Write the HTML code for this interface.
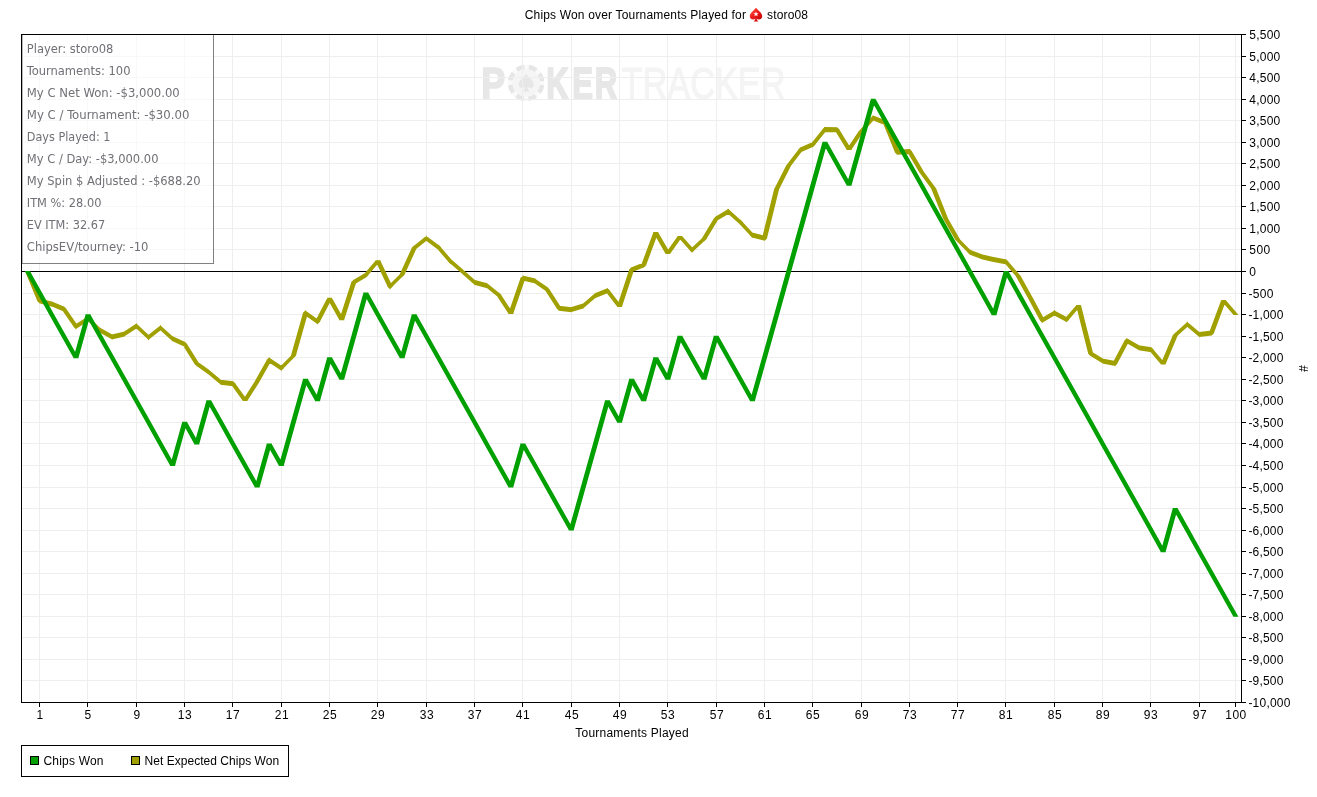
<!DOCTYPE html>
<html lang="en">
<head>
<meta charset="utf-8">
<title>Chips Won over Tournaments Played for storo08</title>
<style>
html,body{margin:0;padding:0;background:#fff;}
body{width:1317px;height:797px;overflow:hidden;}
svg{display:block;}
text{font-family:"Liberation Sans",Arial,sans-serif;font-size:12px;fill:#000;}
.info text{font-family:"DejaVu Sans Condensed","DejaVu Sans","Liberation Sans",sans-serif;font-size:12px;fill:#707076;}
.grid line{stroke:#eeeeee;stroke-width:1;shape-rendering:crispEdges;}
.ax line{stroke:#000;stroke-width:1;shape-rendering:crispEdges;}
</style>
</head>
<body>
<svg width="1317" height="797" viewBox="0 0 1317 797">
<rect x="0" y="0" width="1317" height="797" fill="#ffffff"/>
<defs><linearGradient id="sp" x1="0" y1="0" x2="1" y2="1"><stop offset="0" stop-color="#ff6a48"/><stop offset="0.45" stop-color="#ee1c1c"/><stop offset="1" stop-color="#b80000"/></linearGradient></defs>
<text x="524.7" y="19" textLength="221.2" lengthAdjust="spacing">Chips Won over Tournaments Played for</text>
<g transform="translate(756,14.4)"><path d="M0 -6.6 C 2.5 -3.5 6.2 -1.5 6.2 1.8 C 6.2 4 4.4 5 2.9 5 C 1.9 5 1.2 4.6 0.7 4 C 0.9 5.3 1.4 6.4 2.6 7 L -2.6 7 C -1.4 6.4 -0.9 5.3 -0.7 4 C -1.2 4.6 -1.9 5 -2.9 5 C -4.4 5 -6.2 4 -6.2 1.8 C -6.2 -1.5 -2.5 -3.5 0 -6.6 Z" fill="url(#sp)"/><path d="M0 -3 L0.7 -1.1 L2.5 -1.1 L1.1 0.1 L1.6 1.9 L0 0.8 L-1.6 1.9 L-1.1 0.1 L-2.5 -1.1 L-0.7 -1.1 Z" fill="#fff"/></g>
<text x="767" y="19" textLength="41" lengthAdjust="spacing">storo08</text>
<g class="wm">
<text transform="translate(0,98.6) scale(0.825,1)" x="583.27" y="0" style="font-size:43.5px;font-weight:bold;fill:#e7e7e7;stroke:#e7e7e7;stroke-width:1.6px;stroke-linejoin:round" vector-effect="non-scaling-stroke">P</text>
<text transform="translate(0,98.6) scale(0.716,1)" x="762.99 799.3 830.73" y="0" style="font-size:43.5px;font-weight:bold;fill:#e7e7e7;stroke:#e7e7e7;stroke-width:1.6px;stroke-linejoin:round" vector-effect="non-scaling-stroke">KER</text>
<text x="621.5" y="98.8" style="font-size:44.5px;fill:#f4f4f4;stroke:#f4f4f4;stroke-width:1.2px" textLength="164" lengthAdjust="spacingAndGlyphs">TRACKER</text>
<g transform="translate(526.2,82.9)"><circle r="18.3" fill="#fafafa"/><circle r="16" fill="none" stroke="#e6e6e6" stroke-width="4.6" stroke-dasharray="8 4.566" stroke-dashoffset="-2.2"/><circle r="13.7" fill="#f5f5f5"/><path d="M0 -9 C 2.5 -5.5 7.5 -2.5 7.5 1.5 C 7.5 4.6 4.6 6 1.2 4.2 C 1.5 6 2.2 7.4 3.4 8.6 L -3.4 8.6 C -2.2 7.4 -1.5 6 -1.2 4.2 C -4.6 6 -7.5 4.6 -7.5 1.5 C -7.5 -2.5 -2.5 -5.5 0 -9 Z" fill="#e6e6e6"/></g>
</g>
<g class="grid">
<line x1="39.5" y1="35" x2="39.5" y2="702"/><line x1="87.5" y1="35" x2="87.5" y2="702"/><line x1="136.5" y1="35" x2="136.5" y2="702"/><line x1="184.5" y1="35" x2="184.5" y2="702"/><line x1="232.5" y1="35" x2="232.5" y2="702"/><line x1="281.5" y1="35" x2="281.5" y2="702"/><line x1="329.5" y1="35" x2="329.5" y2="702"/><line x1="377.5" y1="35" x2="377.5" y2="702"/><line x1="426.5" y1="35" x2="426.5" y2="702"/><line x1="474.5" y1="35" x2="474.5" y2="702"/><line x1="522.5" y1="35" x2="522.5" y2="702"/><line x1="571.5" y1="35" x2="571.5" y2="702"/><line x1="619.5" y1="35" x2="619.5" y2="702"/><line x1="667.5" y1="35" x2="667.5" y2="702"/><line x1="716.5" y1="35" x2="716.5" y2="702"/><line x1="764.5" y1="35" x2="764.5" y2="702"/><line x1="812.5" y1="35" x2="812.5" y2="702"/><line x1="861.5" y1="35" x2="861.5" y2="702"/><line x1="909.5" y1="35" x2="909.5" y2="702"/><line x1="957.5" y1="35" x2="957.5" y2="702"/><line x1="1005.5" y1="35" x2="1005.5" y2="702"/><line x1="1054.5" y1="35" x2="1054.5" y2="702"/><line x1="1102.5" y1="35" x2="1102.5" y2="702"/><line x1="1150.5" y1="35" x2="1150.5" y2="702"/><line x1="1199.5" y1="35" x2="1199.5" y2="702"/><line x1="1235.5" y1="35" x2="1235.5" y2="702"/>
<line x1="22" y1="56.5" x2="1241" y2="56.5"/><line x1="22" y1="77.5" x2="1241" y2="77.5"/><line x1="22" y1="99.5" x2="1241" y2="99.5"/><line x1="22" y1="120.5" x2="1241" y2="120.5"/><line x1="22" y1="142.5" x2="1241" y2="142.5"/><line x1="22" y1="163.5" x2="1241" y2="163.5"/><line x1="22" y1="185.5" x2="1241" y2="185.5"/><line x1="22" y1="206.5" x2="1241" y2="206.5"/><line x1="22" y1="228.5" x2="1241" y2="228.5"/><line x1="22" y1="249.5" x2="1241" y2="249.5"/><line x1="22" y1="293.5" x2="1241" y2="293.5"/><line x1="22" y1="314.5" x2="1241" y2="314.5"/><line x1="22" y1="336.5" x2="1241" y2="336.5"/><line x1="22" y1="357.5" x2="1241" y2="357.5"/><line x1="22" y1="379.5" x2="1241" y2="379.5"/><line x1="22" y1="400.5" x2="1241" y2="400.5"/><line x1="22" y1="422.5" x2="1241" y2="422.5"/><line x1="22" y1="443.5" x2="1241" y2="443.5"/><line x1="22" y1="465.5" x2="1241" y2="465.5"/><line x1="22" y1="487.5" x2="1241" y2="487.5"/><line x1="22" y1="508.5" x2="1241" y2="508.5"/><line x1="22" y1="530.5" x2="1241" y2="530.5"/><line x1="22" y1="551.5" x2="1241" y2="551.5"/><line x1="22" y1="573.5" x2="1241" y2="573.5"/><line x1="22" y1="594.5" x2="1241" y2="594.5"/><line x1="22" y1="616.5" x2="1241" y2="616.5"/><line x1="22" y1="637.5" x2="1241" y2="637.5"/><line x1="22" y1="659.5" x2="1241" y2="659.5"/><line x1="22" y1="680.5" x2="1241" y2="680.5"/>
</g>
<g class="info">
<rect x="22" y="35" width="191" height="228" fill="#ffffff" fill-opacity="0.6"/><path d="M213.5 35V263.5H22" fill="none" stroke="#808080" stroke-width="1" shape-rendering="crispEdges"/><path d="M22.5 35V263" fill="none" stroke="#b8b8b8" stroke-width="1" shape-rendering="crispEdges"/>
<text x="26.8" y="53" textLength="86.6" lengthAdjust="spacingAndGlyphs">Player: storo08</text>
<text x="26.8" y="75" textLength="103.7" lengthAdjust="spacingAndGlyphs">Tournaments: 100</text>
<text x="26.8" y="97" textLength="153" lengthAdjust="spacingAndGlyphs">My C Net Won: -$3,000.00</text>
<text x="26.8" y="119" textLength="162.6" lengthAdjust="spacingAndGlyphs">My C / Tournament: -$30.00</text>
<text x="26.8" y="141" textLength="83.6" lengthAdjust="spacingAndGlyphs">Days Played: 1</text>
<text x="26.8" y="163" textLength="131.7" lengthAdjust="spacingAndGlyphs">My C / Day: -$3,000.00</text>
<text x="26.8" y="185" textLength="173.8" lengthAdjust="spacingAndGlyphs">My Spin $ Adjusted : -$688.20</text>
<text x="26.8" y="207" textLength="74.6" lengthAdjust="spacingAndGlyphs">ITM %: 28.00</text>
<text x="26.8" y="229" textLength="78.3" lengthAdjust="spacingAndGlyphs">EV ITM: 32.67</text>
<text x="26.8" y="251" textLength="121.7" lengthAdjust="spacingAndGlyphs">ChipsEV/tourney: -10</text>
</g>
<g class="ax"><line x1="22" y1="271.5" x2="1241" y2="271.5"/></g>
<path fill="#a0a000" fill-rule="nonzero" d="M24.92 271L29.92 271L42.42 301.3L37.42 301.3ZM39.21 298.17L52.29 301.63L52.29 306.63L39.21 303.17ZM51.29 301.29L64.37 306.71L64.37 311.71L51.29 306.29ZM61.02 308.5L66.02 308.5L78.8 326.9L73.8 326.9ZM75.45 324.21L88.53 315.99L88.53 320.99L75.45 329.21ZM87.53 315.83L100.61 328.17L100.61 333.17L87.53 320.83ZM99.61 327.42L112.69 334.68L112.69 339.68L99.61 332.42ZM111.69 334.52L124.77 331.38L124.77 336.38L111.69 339.52ZM123.77 331.83L136.85 323.17L136.85 328.17L123.77 336.83ZM135.85 323.03L148.93 335.37L148.93 340.37L135.85 328.03ZM147.93 335.29L161.01 325.11L161.01 330.11L147.93 340.29ZM160.01 325.05L173.09 336.75L173.09 341.75L160.01 330.05ZM172.09 336.07L185.17 342.03L185.17 347.03L172.09 341.07ZM181.86 343.8L186.86 343.8L199.56 364L194.56 364ZM196.25 360.64L209.33 369.96L209.33 374.96L196.25 365.64ZM208.33 369.17L221.41 380.33L221.41 385.33L208.33 374.17ZM220.41 379.84L233.49 381.36L233.49 386.36L220.41 384.84ZM230.13 383.3L235.13 383.3L247.93 401L242.93 401ZM254.97 381.1L259.97 381.1L247.25 401L242.25 401ZM267.01 359.5L272.01 359.5L259.37 382.1L254.37 382.1ZM268.73 357.16L281.81 365.94L281.81 370.94L268.73 362.16ZM291.38 355.2L296.38 355.2L283.32 368.6L278.32 368.6ZM303.11 312.5L308.11 312.5L295.75 356.2L290.75 356.2ZM304.97 310.14L318.05 319.46L318.05 324.46L304.97 315.14ZM327.39 297.8L332.39 297.8L319.79 322.1L314.79 322.1ZM326.85 297.8L331.85 297.8L344.49 320.3L339.49 320.3ZM351.45 281.7L356.45 281.7L344.05 320.3L339.05 320.3ZM353.29 280L366.37 272.2L366.37 277.2L353.29 285ZM375.88 260.3L380.88 260.3L367.94 275.5L362.94 275.5ZM375.21 260.3L380.21 260.3L392.77 287L387.77 287ZM389.53 284.5L402.61 271.5L402.61 276.5L389.53 289.5ZM411.92 247.6L416.92 247.6L404.38 275L399.38 275ZM413.69 246L426.77 235.5L426.77 240.5L413.69 251ZM425.77 235.53L438.85 245.17L438.85 250.17L425.77 240.53ZM435.42 246.8L440.42 246.8L453.36 261.8L448.36 261.8ZM449.93 258.37L463.01 269.53L463.01 274.53L449.93 263.37ZM462.01 268.66L475.09 280.24L475.09 285.24L462.01 273.66ZM474.09 279.67L487.17 283.13L487.17 288.13L474.09 284.67ZM486.17 282.61L499.25 292.89L499.25 297.89L486.17 287.61ZM495.92 294.5L500.92 294.5L513.66 314L508.66 314ZM520.58 277.7L525.58 277.7L513.16 314L508.16 314ZM522.41 275.58L535.49 278.62L535.49 283.62L522.41 280.58ZM534.49 278.15L547.57 287.35L547.57 292.35L534.49 283.15ZM544.25 289L549.25 289L561.97 308.7L556.97 308.7ZM558.65 305.64L571.73 307.26L571.73 312.26L558.65 310.64ZM570.73 307.36L583.81 303.24L583.81 308.24L570.73 312.36ZM582.81 303.83L595.89 292.57L595.89 297.57L582.81 308.83ZM594.89 293.2L607.97 288L607.97 293L594.89 298.2ZM604.59 290.2L609.59 290.2L622.43 307L617.43 307ZM629.29 269.2L634.29 269.2L621.89 307L616.89 307ZM631.13 267.39L644.21 262.31L644.21 267.31L631.13 272.39ZM653.48 232L658.48 232L646.02 265.5L641.02 265.5ZM653 232L658 232L670.66 254L665.66 254ZM677.81 236L682.81 236L670.01 254L665.01 254ZM677 236L682 236L694.98 250.5L689.98 250.5ZM691.53 247.96L704.61 235.84L704.61 240.84L691.53 252.96ZM713.99 218.3L718.99 218.3L706.31 239.3L701.31 239.3ZM715.69 216.6L728.77 208.7L728.77 213.7L715.69 221.6ZM727.77 208.56L740.85 220.14L740.85 225.14L727.77 213.56ZM737.39 221.7L742.39 221.7L755.39 235.7L750.39 235.7ZM751.93 232.58L765.01 235.82L765.01 240.82L751.93 237.58ZM774.21 188.7L779.21 188.7L766.89 238.7L761.89 238.7ZM786.42 165L791.42 165L778.84 189.7L773.84 189.7ZM798.63 149.2L803.63 149.2L790.79 166L785.79 166ZM800.25 147.42L813.33 141.78L813.33 146.78L800.25 152.42ZM822.81 128.9L827.81 128.9L814.93 145L809.93 145ZM824.41 126.88L837.49 127.32L837.49 132.32L824.41 131.88ZM834.18 129.3L839.18 129.3L851.88 150L846.88 150ZM858.98 130.8L863.98 130.8L851.24 150L846.24 150ZM871.18 117.5L876.18 117.5L863.2 131.8L858.2 131.8ZM872.73 115.31L885.81 120.39L885.81 125.39L872.73 120.31ZM882.61 122.2L887.61 122.2L900.09 152.7L895.09 152.7ZM896.89 149.72L909.97 149.08L909.97 154.08L896.89 154.72ZM906.68 151.1L911.68 151.1L924.34 172.6L919.34 172.6ZM918.68 171.6L923.68 171.6L936.5 188.9L931.5 188.9ZM930.93 187.9L935.93 187.9L948.41 219.2L943.41 219.2ZM942.92 218.2L947.92 218.2L960.58 240.3L955.58 240.3ZM954.8 239.3L959.8 239.3L972.86 252.6L967.86 252.6ZM969.37 249.41L982.45 254.49L982.45 259.49L969.37 254.41ZM981.45 254.18L994.53 257.32L994.53 262.32L981.45 259.18ZM993.53 257.1L1006.61 259.6L1006.61 264.6L993.53 262.1ZM1003.18 261.5L1008.18 261.5L1021.12 276.4L1016.12 276.4ZM1015.41 275.4L1020.41 275.4L1033.05 298.2L1028.05 298.2ZM1027.5 297.2L1032.5 297.2L1045.12 320.7L1040.12 320.7ZM1041.85 318L1054.93 310.2L1054.93 315.2L1041.85 323ZM1053.93 310.23L1067.01 317.27L1067.01 322.27L1053.93 315.23ZM1076.52 305.1L1081.52 305.1L1068.58 320L1063.58 320ZM1075.96 305.1L1080.96 305.1L1093.3 354L1088.3 354ZM1090.17 350.69L1103.25 358.81L1103.25 363.81L1090.17 355.69ZM1102.25 358.4L1115.33 361.1L1115.33 366.1L1102.25 363.4ZM1124.67 340.2L1129.67 340.2L1117.07 364L1112.07 364ZM1126.41 337.91L1139.49 345.59L1139.49 350.59L1126.41 342.91ZM1138.49 345.22L1151.57 347.28L1151.57 352.28L1138.49 350.22ZM1148.15 349.2L1153.15 349.2L1166.07 364.6L1161.07 364.6ZM1172.94 334.9L1177.94 334.9L1165.44 364.6L1160.44 364.6ZM1174.73 333.36L1187.81 321.44L1187.81 326.44L1174.73 338.36ZM1186.81 321.48L1199.89 332.42L1199.89 337.42L1186.81 326.48ZM1198.89 332.06L1211.97 330.54L1211.97 335.54L1198.89 337.06ZM1221.24 300L1226.24 300L1213.78 333.6L1208.78 333.6ZM1220.62 300L1225.62 300L1238.56 315.1L1233.56 315.1ZM39.71 298.05L42.46 300.8L39.71 303.55L36.96 300.8ZM63.87 306.25L66.62 309L63.87 311.75L61.12 309ZM75.95 323.65L78.7 326.4L75.95 329.15L73.2 326.4ZM184.67 341.55L187.42 344.3L184.67 347.05L181.92 344.3ZM196.75 360.75L199.5 363.5L196.75 366.25L194 363.5ZM232.99 381.05L235.74 383.8L232.99 386.55L230.24 383.8ZM269.23 357.25L271.98 360L269.23 362.75L266.48 360ZM281.31 365.35L284.06 368.1L281.31 370.85L278.56 368.1ZM305.47 310.25L308.22 313L305.47 315.75L302.72 313ZM317.55 318.85L320.3 321.6L317.55 324.35L314.8 321.6ZM353.79 279.45L356.54 282.2L353.79 284.95L351.04 282.2ZM365.87 272.25L368.62 275L365.87 277.75L363.12 275ZM390.03 283.75L392.78 286.5L390.03 289.25L387.28 286.5ZM402.11 271.75L404.86 274.5L402.11 277.25L399.36 274.5ZM414.19 245.35L416.94 248.1L414.19 250.85L411.44 248.1ZM438.35 244.55L441.1 247.3L438.35 250.05L435.6 247.3ZM450.43 258.55L453.18 261.3L450.43 264.05L447.68 261.3ZM498.75 292.25L501.5 295L498.75 297.75L496 295ZM522.91 275.45L525.66 278.2L522.91 280.95L520.16 278.2ZM547.07 286.75L549.82 289.5L547.07 292.25L544.32 289.5ZM559.15 305.45L561.9 308.2L559.15 310.95L556.4 308.2ZM607.47 287.95L610.22 290.7L607.47 293.45L604.72 290.7ZM631.63 266.95L634.38 269.7L631.63 272.45L628.88 269.7ZM643.71 262.25L646.46 265L643.71 267.75L640.96 265ZM692.03 247.25L694.78 250L692.03 252.75L689.28 250ZM704.11 236.05L706.86 238.8L704.11 241.55L701.36 238.8ZM716.19 216.05L718.94 218.8L716.19 221.55L713.44 218.8ZM740.35 219.45L743.1 222.2L740.35 224.95L737.6 222.2ZM752.43 232.45L755.18 235.2L752.43 237.95L749.68 235.2ZM764.51 235.45L767.26 238.2L764.51 240.95L761.76 238.2ZM800.75 146.95L803.5 149.7L800.75 152.45L798 149.7ZM812.83 141.75L815.58 144.5L812.83 147.25L810.08 144.5ZM824.91 126.65L827.66 129.4L824.91 132.15L822.16 129.4ZM836.99 127.05L839.74 129.8L836.99 132.55L834.24 129.8ZM873.23 115.25L875.98 118L873.23 120.75L870.48 118ZM885.31 119.95L888.06 122.7L885.31 125.45L882.56 122.7ZM897.39 149.45L900.14 152.2L897.39 154.95L894.64 152.2ZM909.47 148.85L912.22 151.6L909.47 154.35L906.72 151.6ZM969.87 249.35L972.62 252.1L969.87 254.85L967.12 252.1ZM1006.11 259.25L1008.86 262L1006.11 264.75L1003.36 262ZM1042.35 317.45L1045.1 320.2L1042.35 322.95L1039.6 320.2ZM1066.51 316.75L1069.26 319.5L1066.51 322.25L1063.76 319.5ZM1090.67 350.75L1093.42 353.5L1090.67 356.25L1087.92 353.5ZM1114.83 360.75L1117.58 363.5L1114.83 366.25L1112.08 363.5ZM1126.91 337.95L1129.66 340.7L1126.91 343.45L1124.16 340.7ZM1151.07 346.95L1153.82 349.7L1151.07 352.45L1148.32 349.7ZM1175.23 332.65L1177.98 335.4L1175.23 338.15L1172.48 335.4ZM1211.47 330.35L1214.22 333.1L1211.47 335.85L1208.72 333.1Z"/>
<path fill="#00a000" fill-rule="nonzero" d="M24.85 271.03L29.85 271.03L42.49 293.58L37.49 293.58ZM36.93 292.58L41.93 292.58L54.57 315.13L49.57 315.13ZM49.01 314.13L54.01 314.13L66.65 336.68L61.65 336.68ZM61.09 335.68L66.09 335.68L78.73 358.23L73.73 358.23ZM85.67 314.13L90.67 314.13L78.31 358.23L73.31 358.23ZM85.25 314.13L90.25 314.13L102.89 336.68L97.89 336.68ZM97.33 335.68L102.33 335.68L114.97 358.23L109.97 358.23ZM109.41 357.23L114.41 357.23L127.05 379.77L122.05 379.77ZM121.49 378.77L126.49 378.77L139.13 401.32L134.13 401.32ZM133.57 400.32L138.57 400.32L151.21 422.87L146.21 422.87ZM145.65 421.87L150.65 421.87L163.29 444.42L158.29 444.42ZM157.73 443.42L162.73 443.42L175.37 465.97L170.37 465.97ZM182.31 421.87L187.31 421.87L174.95 465.97L169.95 465.97ZM181.89 421.87L186.89 421.87L199.53 444.42L194.53 444.42ZM206.47 400.32L211.47 400.32L199.11 444.42L194.11 444.42ZM206.05 400.32L211.05 400.32L223.69 422.87L218.69 422.87ZM218.13 421.87L223.13 421.87L235.77 444.42L230.77 444.42ZM230.21 443.42L235.21 443.42L247.85 465.97L242.85 465.97ZM242.29 464.97L247.29 464.97L259.93 487.52L254.93 487.52ZM266.87 443.42L271.87 443.42L259.51 487.52L254.51 487.52ZM266.45 443.42L271.45 443.42L284.09 465.97L279.09 465.97ZM291.03 421.87L296.03 421.87L283.67 465.97L278.67 465.97ZM303.11 378.77L308.11 378.77L295.75 422.87L290.75 422.87ZM302.69 378.77L307.69 378.77L320.33 401.32L315.33 401.32ZM327.27 357.23L332.27 357.23L319.91 401.32L314.91 401.32ZM326.85 357.23L331.85 357.23L344.49 379.77L339.49 379.77ZM351.43 335.68L356.43 335.68L344.07 379.77L339.07 379.77ZM363.51 292.58L368.51 292.58L356.15 336.68L351.15 336.68ZM363.09 292.58L368.09 292.58L380.73 315.13L375.73 315.13ZM375.17 314.13L380.17 314.13L392.81 336.68L387.81 336.68ZM387.25 335.68L392.25 335.68L404.89 358.23L399.89 358.23ZM411.83 314.13L416.83 314.13L404.47 358.23L399.47 358.23ZM411.41 314.13L416.41 314.13L429.05 336.68L424.05 336.68ZM423.49 335.68L428.49 335.68L441.13 358.23L436.13 358.23ZM435.57 357.23L440.57 357.23L453.21 379.77L448.21 379.77ZM447.65 378.77L452.65 378.77L465.29 401.32L460.29 401.32ZM459.73 400.32L464.73 400.32L477.37 422.87L472.37 422.87ZM471.81 421.87L476.81 421.87L489.45 444.42L484.45 444.42ZM483.89 443.42L488.89 443.42L501.53 465.97L496.53 465.97ZM495.97 464.97L500.97 464.97L513.61 487.52L508.61 487.52ZM520.55 443.42L525.55 443.42L513.19 487.52L508.19 487.52ZM520.13 443.42L525.13 443.42L537.77 465.97L532.77 465.97ZM532.21 464.97L537.21 464.97L549.85 487.52L544.85 487.52ZM544.29 486.52L549.29 486.52L561.93 509.06L556.93 509.06ZM556.37 508.06L561.37 508.06L574.01 530.61L569.01 530.61ZM580.95 486.52L585.95 486.52L573.59 530.61L568.59 530.61ZM593.03 443.42L598.03 443.42L585.67 487.52L580.67 487.52ZM605.11 400.32L610.11 400.32L597.75 444.42L592.75 444.42ZM604.69 400.32L609.69 400.32L622.33 422.87L617.33 422.87ZM629.27 378.77L634.27 378.77L621.91 422.87L616.91 422.87ZM628.85 378.77L633.85 378.77L646.49 401.32L641.49 401.32ZM653.43 357.23L658.43 357.23L646.07 401.32L641.07 401.32ZM653.01 357.23L658.01 357.23L670.65 379.77L665.65 379.77ZM677.59 335.68L682.59 335.68L670.23 379.77L665.23 379.77ZM677.17 335.68L682.17 335.68L694.81 358.23L689.81 358.23ZM689.25 357.23L694.25 357.23L706.89 379.77L701.89 379.77ZM713.83 335.68L718.83 335.68L706.47 379.77L701.47 379.77ZM713.41 335.68L718.41 335.68L731.05 358.23L726.05 358.23ZM725.49 357.23L730.49 357.23L743.13 379.77L738.13 379.77ZM737.57 378.77L742.57 378.77L755.21 401.32L750.21 401.32ZM762.15 357.23L767.15 357.23L754.79 401.32L749.79 401.32ZM774.23 314.13L779.23 314.13L766.87 358.23L761.87 358.23ZM786.31 271.03L791.31 271.03L778.95 315.13L773.95 315.13ZM798.39 227.94L803.39 227.94L791.03 272.03L786.03 272.03ZM810.47 184.84L815.47 184.84L803.11 228.94L798.11 228.94ZM822.55 141.74L827.55 141.74L815.19 185.84L810.19 185.84ZM822.13 141.74L827.13 141.74L839.77 164.29L834.77 164.29ZM834.21 163.29L839.21 163.29L851.85 185.84L846.85 185.84ZM858.79 141.74L863.79 141.74L851.43 185.84L846.43 185.84ZM870.87 98.65L875.87 98.65L863.51 142.74L858.51 142.74ZM870.45 98.65L875.45 98.65L888.09 121.19L883.09 121.19ZM882.53 120.19L887.53 120.19L900.17 142.74L895.17 142.74ZM894.61 141.74L899.61 141.74L912.25 164.29L907.25 164.29ZM906.69 163.29L911.69 163.29L924.33 185.84L919.33 185.84ZM918.77 184.84L923.77 184.84L936.41 207.39L931.41 207.39ZM930.85 206.39L935.85 206.39L948.49 228.94L943.49 228.94ZM942.93 227.94L947.93 227.94L960.57 250.48L955.57 250.48ZM955.01 249.48L960.01 249.48L972.65 272.03L967.65 272.03ZM967.09 271.03L972.09 271.03L984.73 293.58L979.73 293.58ZM979.17 292.58L984.17 292.58L996.81 315.13L991.81 315.13ZM1003.75 271.03L1008.75 271.03L996.39 315.13L991.39 315.13ZM1003.33 271.03L1008.33 271.03L1020.97 293.58L1015.97 293.58ZM1015.41 292.58L1020.41 292.58L1033.05 315.13L1028.05 315.13ZM1027.49 314.13L1032.49 314.13L1045.13 336.68L1040.13 336.68ZM1039.57 335.68L1044.57 335.68L1057.21 358.23L1052.21 358.23ZM1051.65 357.23L1056.65 357.23L1069.29 379.77L1064.29 379.77ZM1063.73 378.77L1068.73 378.77L1081.37 401.32L1076.37 401.32ZM1075.81 400.32L1080.81 400.32L1093.45 422.87L1088.45 422.87ZM1087.89 421.87L1092.89 421.87L1105.53 444.42L1100.53 444.42ZM1099.97 443.42L1104.97 443.42L1117.61 465.97L1112.61 465.97ZM1112.05 464.97L1117.05 464.97L1129.69 487.52L1124.69 487.52ZM1124.13 486.52L1129.13 486.52L1141.77 509.06L1136.77 509.06ZM1136.21 508.06L1141.21 508.06L1153.85 530.61L1148.85 530.61ZM1148.29 529.61L1153.29 529.61L1165.93 552.16L1160.93 552.16ZM1172.87 508.06L1177.87 508.06L1165.51 552.16L1160.51 552.16ZM1172.45 508.06L1177.45 508.06L1190.09 530.61L1185.09 530.61ZM1184.53 529.61L1189.53 529.61L1202.17 552.16L1197.17 552.16ZM1196.61 551.16L1201.61 551.16L1214.25 573.71L1209.25 573.71ZM1208.69 572.71L1213.69 572.71L1226.33 595.26L1221.33 595.26ZM1220.77 594.26L1225.77 594.26L1238.41 616.81L1233.41 616.81Z"/>
<g class="ax">
<line x1="21" y1="34.5" x2="1246" y2="34.5"/>
<line x1="21.5" y1="34" x2="21.5" y2="703"/>
<line x1="21" y1="702.5" x2="1246" y2="702.5"/>
<line x1="1241.5" y1="34" x2="1241.5" y2="703"/>
<line x1="39.5" y1="703" x2="39.5" y2="707"/><line x1="87.5" y1="703" x2="87.5" y2="707"/><line x1="136.5" y1="703" x2="136.5" y2="707"/><line x1="184.5" y1="703" x2="184.5" y2="707"/><line x1="232.5" y1="703" x2="232.5" y2="707"/><line x1="281.5" y1="703" x2="281.5" y2="707"/><line x1="329.5" y1="703" x2="329.5" y2="707"/><line x1="377.5" y1="703" x2="377.5" y2="707"/><line x1="426.5" y1="703" x2="426.5" y2="707"/><line x1="474.5" y1="703" x2="474.5" y2="707"/><line x1="522.5" y1="703" x2="522.5" y2="707"/><line x1="571.5" y1="703" x2="571.5" y2="707"/><line x1="619.5" y1="703" x2="619.5" y2="707"/><line x1="667.5" y1="703" x2="667.5" y2="707"/><line x1="716.5" y1="703" x2="716.5" y2="707"/><line x1="764.5" y1="703" x2="764.5" y2="707"/><line x1="812.5" y1="703" x2="812.5" y2="707"/><line x1="861.5" y1="703" x2="861.5" y2="707"/><line x1="909.5" y1="703" x2="909.5" y2="707"/><line x1="957.5" y1="703" x2="957.5" y2="707"/><line x1="1005.5" y1="703" x2="1005.5" y2="707"/><line x1="1054.5" y1="703" x2="1054.5" y2="707"/><line x1="1102.5" y1="703" x2="1102.5" y2="707"/><line x1="1150.5" y1="703" x2="1150.5" y2="707"/><line x1="1199.5" y1="703" x2="1199.5" y2="707"/><line x1="1235.5" y1="703" x2="1235.5" y2="707"/>
<line x1="1242" y1="56.5" x2="1246" y2="56.5"/><line x1="1242" y1="77.5" x2="1246" y2="77.5"/><line x1="1242" y1="99.5" x2="1246" y2="99.5"/><line x1="1242" y1="120.5" x2="1246" y2="120.5"/><line x1="1242" y1="142.5" x2="1246" y2="142.5"/><line x1="1242" y1="163.5" x2="1246" y2="163.5"/><line x1="1242" y1="185.5" x2="1246" y2="185.5"/><line x1="1242" y1="206.5" x2="1246" y2="206.5"/><line x1="1242" y1="228.5" x2="1246" y2="228.5"/><line x1="1242" y1="249.5" x2="1246" y2="249.5"/><line x1="1242" y1="271.5" x2="1246" y2="271.5"/><line x1="1242" y1="293.5" x2="1246" y2="293.5"/><line x1="1242" y1="314.5" x2="1246" y2="314.5"/><line x1="1242" y1="336.5" x2="1246" y2="336.5"/><line x1="1242" y1="357.5" x2="1246" y2="357.5"/><line x1="1242" y1="379.5" x2="1246" y2="379.5"/><line x1="1242" y1="400.5" x2="1246" y2="400.5"/><line x1="1242" y1="422.5" x2="1246" y2="422.5"/><line x1="1242" y1="443.5" x2="1246" y2="443.5"/><line x1="1242" y1="465.5" x2="1246" y2="465.5"/><line x1="1242" y1="487.5" x2="1246" y2="487.5"/><line x1="1242" y1="508.5" x2="1246" y2="508.5"/><line x1="1242" y1="530.5" x2="1246" y2="530.5"/><line x1="1242" y1="551.5" x2="1246" y2="551.5"/><line x1="1242" y1="573.5" x2="1246" y2="573.5"/><line x1="1242" y1="594.5" x2="1246" y2="594.5"/><line x1="1242" y1="616.5" x2="1246" y2="616.5"/><line x1="1242" y1="637.5" x2="1246" y2="637.5"/><line x1="1242" y1="659.5" x2="1246" y2="659.5"/><line x1="1242" y1="680.5" x2="1246" y2="680.5"/>
</g>
<g class="xl" text-anchor="middle">
<text x="39.8" y="719" textLength="7" lengthAdjust="spacing">1</text><text x="87.8" y="719" textLength="7" lengthAdjust="spacing">5</text><text x="136.8" y="719" textLength="7" lengthAdjust="spacing">9</text><text x="184.8" y="719" textLength="14" lengthAdjust="spacing">13</text><text x="232.8" y="719" textLength="14" lengthAdjust="spacing">17</text><text x="281.8" y="719" textLength="14" lengthAdjust="spacing">21</text><text x="329.8" y="719" textLength="14" lengthAdjust="spacing">25</text><text x="377.8" y="719" textLength="14" lengthAdjust="spacing">29</text><text x="426.8" y="719" textLength="14" lengthAdjust="spacing">33</text><text x="474.8" y="719" textLength="14" lengthAdjust="spacing">37</text><text x="522.8" y="719" textLength="14" lengthAdjust="spacing">41</text><text x="571.8" y="719" textLength="14" lengthAdjust="spacing">45</text><text x="619.8" y="719" textLength="14" lengthAdjust="spacing">49</text><text x="667.8" y="719" textLength="14" lengthAdjust="spacing">53</text><text x="716.8" y="719" textLength="14" lengthAdjust="spacing">57</text><text x="764.8" y="719" textLength="14" lengthAdjust="spacing">61</text><text x="812.8" y="719" textLength="14" lengthAdjust="spacing">65</text><text x="861.8" y="719" textLength="14" lengthAdjust="spacing">69</text><text x="909.8" y="719" textLength="14" lengthAdjust="spacing">73</text><text x="957.8" y="719" textLength="14" lengthAdjust="spacing">77</text><text x="1005.8" y="719" textLength="14" lengthAdjust="spacing">81</text><text x="1054.8" y="719" textLength="14" lengthAdjust="spacing">85</text><text x="1102.8" y="719" textLength="14" lengthAdjust="spacing">89</text><text x="1150.8" y="719" textLength="14" lengthAdjust="spacing">93</text><text x="1199.8" y="719" textLength="14" lengthAdjust="spacing">97</text><text x="1235.8" y="719" textLength="21" lengthAdjust="spacing">100</text>
</g>
<g class="yl">
<text x="1249.3" y="39" textLength="31" lengthAdjust="spacing">5,500</text><text x="1249.3" y="61" textLength="31" lengthAdjust="spacing">5,000</text><text x="1249.3" y="82" textLength="31" lengthAdjust="spacing">4,500</text><text x="1249.3" y="104" textLength="31" lengthAdjust="spacing">4,000</text><text x="1249.3" y="125" textLength="31" lengthAdjust="spacing">3,500</text><text x="1249.3" y="147" textLength="31" lengthAdjust="spacing">3,000</text><text x="1249.3" y="168" textLength="31" lengthAdjust="spacing">2,500</text><text x="1249.3" y="190" textLength="31" lengthAdjust="spacing">2,000</text><text x="1249.3" y="211" textLength="31" lengthAdjust="spacing">1,500</text><text x="1249.3" y="233" textLength="31" lengthAdjust="spacing">1,000</text><text x="1249.3" y="254" textLength="21" lengthAdjust="spacing">500</text><text x="1249.3" y="276">0</text><text x="1248.4" y="298" textLength="25" lengthAdjust="spacing">-500</text><text x="1248.4" y="319" textLength="35" lengthAdjust="spacing">-1,000</text><text x="1248.4" y="341" textLength="35" lengthAdjust="spacing">-1,500</text><text x="1248.4" y="362" textLength="35" lengthAdjust="spacing">-2,000</text><text x="1248.4" y="384" textLength="35" lengthAdjust="spacing">-2,500</text><text x="1248.4" y="405" textLength="35" lengthAdjust="spacing">-3,000</text><text x="1248.4" y="427" textLength="35" lengthAdjust="spacing">-3,500</text><text x="1248.4" y="448" textLength="35" lengthAdjust="spacing">-4,000</text><text x="1248.4" y="470" textLength="35" lengthAdjust="spacing">-4,500</text><text x="1248.4" y="492" textLength="35" lengthAdjust="spacing">-5,000</text><text x="1248.4" y="513" textLength="35" lengthAdjust="spacing">-5,500</text><text x="1248.4" y="535" textLength="35" lengthAdjust="spacing">-6,000</text><text x="1248.4" y="556" textLength="35" lengthAdjust="spacing">-6,500</text><text x="1248.4" y="578" textLength="35" lengthAdjust="spacing">-7,000</text><text x="1248.4" y="599" textLength="35" lengthAdjust="spacing">-7,500</text><text x="1248.4" y="621" textLength="35" lengthAdjust="spacing">-8,000</text><text x="1248.4" y="642" textLength="35" lengthAdjust="spacing">-8,500</text><text x="1248.4" y="664" textLength="35" lengthAdjust="spacing">-9,000</text><text x="1248.4" y="685" textLength="35" lengthAdjust="spacing">-9,500</text><text x="1248.4" y="707" textLength="42" lengthAdjust="spacing">-10,000</text>
</g>
<text x="575.3" y="737" textLength="113.3" lengthAdjust="spacing">Tournaments Played</text>
<text transform="translate(1298.9,368.6) rotate(90)" text-anchor="middle">#</text>
<g class="legend">
<rect x="21.5" y="745.5" width="267" height="31" fill="#fff" stroke="#000" stroke-width="1" shape-rendering="crispEdges"/>
<rect x="30.5" y="756.5" width="8" height="8" fill="#00a000" stroke="#000" stroke-width="1" shape-rendering="crispEdges"/>
<text x="43.5" y="765" textLength="60" lengthAdjust="spacing">Chips Won</text>
<rect x="131.5" y="756.5" width="8" height="8" fill="#a0a000" stroke="#000" stroke-width="1" shape-rendering="crispEdges"/>
<text x="144.5" y="765" textLength="134.6" lengthAdjust="spacing">Net Expected Chips Won</text>
</g>
</svg>
</body>
</html>
